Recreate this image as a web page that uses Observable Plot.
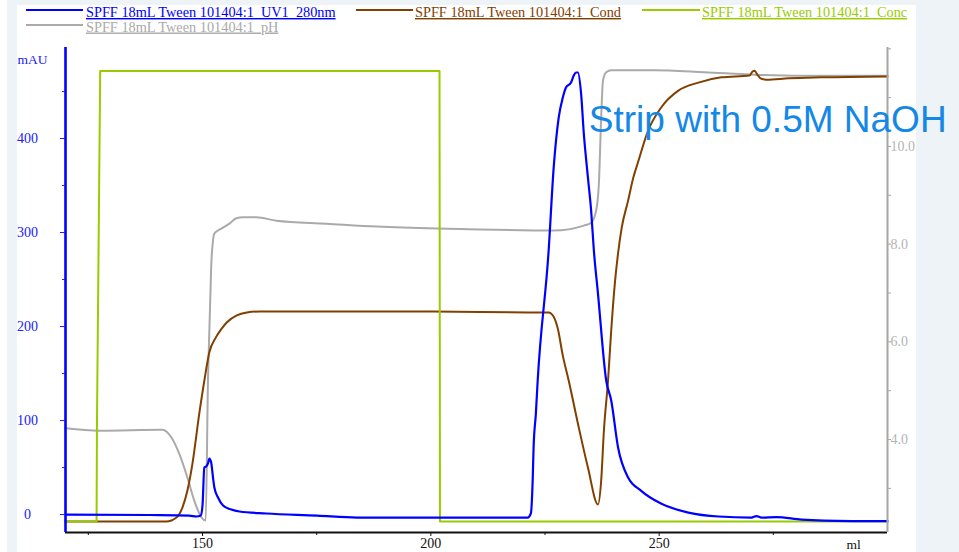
<!DOCTYPE html>
<html><head><meta charset="utf-8">
<script src="https://cdn.jsdelivr.net/npm/d3@7"></script>
<script src="https://cdn.jsdelivr.net/npm/@observablehq/plot@0.6"></script>
<style>
html,body{margin:0;padding:0;background:#fff;width:959px;height:552px;overflow:hidden;position:relative}
.bg{position:absolute;background:#eef3f8}
#legend{position:absolute;left:0;top:0}
#chart{position:absolute;left:0;top:40px}
</style></head><body>
<div class="bg" style="left:7px;top:0;width:10px;height:552px"></div>
<div class="bg" style="left:7px;top:0;width:952px;height:5px"></div>
<div class="bg" style="left:916px;top:0;width:43px;height:552px"></div>
<svg id="legend" width="959" height="40"></svg>
<div id="chart"></div>
<script>
// ---- Series names & colours ----
const seriesNames = [
  "SPFF 18mL Tween 101404:1_UV1_280nm",
  "SPFF 18mL Tween 101404:1_Cond",
  "SPFF 18mL Tween 101404:1_Conc",
  "SPFF 18mL Tween 101404:1_pH"
];
const seriesColors = ["#0000ff", "#804000", "#99cc00", "#aaaaaa"];

// ---- UV 280 nm (mAU) ----
const uvVol = [120, 138.4, 147.1, 148.7, 149.6, 150.0, 150.4, 150.8, 151.2, 151.5, 151.9, 152.3, 152.6, 153.4, 154.5, 156.3, 158.1, 164.0, 175.1, 183.8, 215.3, 221.2, 221.9, 222.3, 222.5, 223.0, 223.4, 225.8, 226.9, 228.0, 228.9, 229.6, 230.7, 231.3, 231.8, 232.2, 232.9, 233.5, 234.4, 235.1, 235.7, 236.6, 238.4, 239.5, 241.0, 243.2, 246.0, 250.4, 256.4, 263.0, 270.2, 271.3, 272.4, 275.7, 281.2, 292.2, 300];
const uvMAU = [0, -0.5, -1.1, -2.1, -1.1, 9.6, 50, 51.1, 54.3, 59.6, 55.3, 39.4, 28.7, 18.1, 9.6, 5.3, 3.2, 1.1, -1.1, -3.2, -3.2, -3.2, 1.1, 36.2, 71.3, 107.4, 142.6, 280.9, 369.1, 422.3, 443.6, 454.3, 459.6, 467.0, 470.2, 470.2, 447.9, 405.3, 358.5, 323.4, 280.9, 235.1, 142.6, 121.3, 71.3, 39.4, 25.5, 11.7, 2.1, -2.1, -3.2, -1.6, -3.2, -2.7, -5.3, -6.9, -7.1];

// ---- Conductivity (mS/cm) ----
const condVol = [120, 142.1, 144.3, 145.6, 146.7, 147.8, 149.3, 150.4, 151.5, 152.9, 154.2, 155.3, 157.5, 159.7, 162.5, 199.9, 221.9, 225.8, 226.9, 227.8, 228.9, 230.2, 232.2, 234.4, 236.6, 237.3, 237.9, 238.8, 239.5, 240.3, 241.0, 241.8, 243.2, 244.3, 245.4, 247.6, 250.4, 254.2, 258.6, 263.6, 269.8, 270.4, 270.9, 271.5, 272.2, 273.5, 278.4, 285.6, 300];
const condVal = [0, 0, 0.84, 2.95, 6.54, 12.2, 22.8, 29.7, 35.7, 38.8, 40.7, 42.0, 43.5, 44.1, 44.3, 44.3, 44.1, 44.1, 43.2, 40.7, 35.0, 29.7, 20.7, 11.4, 3.6, 8.6, 19.2, 29.7, 40.3, 50.3, 56.6, 62.0, 67.7, 72.4, 75.9, 82.5, 87.3, 90.9, 92.6, 93.7, 94.1, 94.9, 95.1, 94.3, 93.5, 93.2, 93.5, 93.7, 93.9];

// ---- Concentration B (%) ----
const concVol = [120, 126.8, 126.9, 127.6, 201.9, 202.0, 300];
const concVal = [0, 0, 23, 100, 100, 0, 0];

// ---- pH ----
const phVol = [120, 127.4, 141.2, 143.2, 144.9, 146.7, 148.2, 149.8, 150.7, 151.2, 151.5, 151.8, 151.9, 152.3, 152.6, 153.4, 154.5, 155.9, 157.4, 158.9, 161.8, 166.2, 177.2, 188.2, 201.4, 206.5, 226.9, 233.5, 235.1, 236.2, 236.8, 237.3, 237.7, 238.4, 239.5, 248.9, 259.9, 270.9, 281.2, 300];
const phVal = [4.23, 4.18, 4.20, 4.04, 3.71, 3.22, 2.75, 2.40, 2.34, 5.21, 6.23, 7.19, 7.52, 8.07, 8.22, 8.28, 8.34, 8.42, 8.53, 8.55, 8.55, 8.48, 8.42, 8.36, 8.32, 8.31, 8.28, 8.38, 8.44, 8.69, 9.24, 10.59, 11.35, 11.52, 11.56, 11.56, 11.52, 11.47, 11.45, 11.45];

// ---- Axes ----
const xDomain = [120, 300];
const yDomain = [-19.1, 496.8];           // mAU
const xTicks = [150, 200, 250];
const xMinor = [125, 175, 225, 275];
const leftTicks = [0, 100, 200, 300, 400];
const leftMinor = [50, 150, 250, 350, 450];
const phTicks = [4, 6, 8, 10];
const phMinor = [3, 5, 7, 9, 11, 12];

// ---- Annotation ----
const noteLabel = ["Strip with 0.5M NaOH"];
const noteVol = [234.6];
const noteMAU = [419];

// secondary-axis calibrations onto the mAU scale
const phToMAU = d3.scaleLinear([4, 10], [79.8, 391.5]);
const condToMAU = d3.scaleLinear([0, 100], [-7.45, 496.8]);
const concToMAU = d3.scaleLinear([0, 100], [-7.45, 471.8]);

const uvRows = uvVol.map((v, i) => ({ml: v, y: uvMAU[i]}));
const condRows = condVol.map((v, i) => ({ml: v, y: condToMAU(condVal[i])}));
const concRows = concVol.map((v, i) => ({ml: v, y: concToMAU(concVal[i])}));
const phRows = phVol.map((v, i) => ({ml: v, y: phToMAU(phVal[i])}));
const notes = noteLabel.map((t, i) => ({label: t, ml: noteVol[i], y: noteMAU[i]}));

const serif = '"Liberation Serif", "Times New Roman", serif';

// ---- Legend ----
const legendLayout = [
  {x1: 26, x2: 83, ly: 10, tx: 86, ty: 17},
  {x1: 356, x2: 413, ly: 10, tx: 415, ty: 17},
  {x1: 642, x2: 700, ly: 10, tx: 702, ty: 17},
  {x1: 26, x2: 83, ly: 25, tx: 86, ty: 31.5}
];
const lg = d3.select("#legend");
seriesNames.forEach((name, i) => {
  const L = legendLayout[i];
  lg.append("line").attr("x1", L.x1).attr("x2", L.x2).attr("y1", L.ly).attr("y2", L.ly)
    .attr("stroke", seriesColors[i]).attr("stroke-width", 2.2);
  lg.append("text").attr("x", L.tx).attr("y", L.ty).text(name)
    .attr("fill", seriesColors[i]).attr("font-family", serif).attr("font-size", "14.3px")
    .attr("text-decoration", "underline");
});

// ---- Chart ----
const chart = Plot.plot({
  width: 959,
  height: 512,
  marginLeft: 65,
  marginRight: 72,
  marginTop: 7,
  marginBottom: 20,
  x: {domain: xDomain},
  y: {domain: yDomain},
  style: {fontFamily: serif, fontSize: "14px", background: "transparent", overflow: "visible"},
  marks: [
    Plot.lineY(phRows, {x: "ml", y: "y", stroke: seriesColors[3], strokeWidth: 2, curve: "monotone-x"}),
    Plot.lineY(condRows, {x: "ml", y: "y", stroke: seriesColors[1], strokeWidth: 2, curve: "monotone-x"}),
    Plot.lineY(concRows, {x: "ml", y: "y", stroke: seriesColors[2], strokeWidth: 2}),
    Plot.lineY(uvRows, {x: "ml", y: "y", stroke: seriesColors[0], strokeWidth: 2.2, curve: "monotone-x"}),
    Plot.ruleY([yDomain[0]], {stroke: "#111", strokeWidth: 2}),
    Plot.ruleX([xDomain[1]], {stroke: "#a6a6a6", strokeWidth: 2}),
    Plot.ruleX([xDomain[0]], {stroke: "#0000ff", strokeWidth: 2.6}),
    Plot.axisY({anchor: "left", ticks: leftTicks, tickSize: 5, tickPadding: 33, textAnchor: "middle", color: "#2020ff", label: null}),
    Plot.axisY({anchor: "left", ticks: leftMinor, tickSize: 3, tickFormat: () => "", color: "#2020ff", label: null}),
    Plot.axisY({anchor: "right", ticks: phTicks.map(phToMAU), tickFormat: d => phToMAU.invert(d).toFixed(1), tickSize: 3, tickPadding: 0, color: "#a6a6a6", fill: "#b4b4b4", label: null}),
    Plot.axisY({anchor: "right", ticks: phMinor.map(phToMAU), tickSize: 3, tickFormat: () => "", color: "#a6a6a6", label: null}),
    Plot.axisX({anchor: "bottom", ticks: xTicks, tickSize: 4, tickPadding: 2, color: "#111", label: null}),
    Plot.axisX({anchor: "bottom", ticks: xMinor, tickSize: 3, tickFormat: () => "", color: "#111", label: null}),
    Plot.text(["mAU"], {frameAnchor: "top-left", textAnchor: "middle", lineAnchor: "middle", dx: -33, dy: 12, fill: "#2020ff", fontSize: 13.5}),
    Plot.text(["ml"], {frameAnchor: "bottom-right", textAnchor: "middle", lineAnchor: "middle", dx: -34, dy: 12, fill: "#111", fontSize: 13.5}),
    Plot.text(notes, {x: "ml", y: "y", text: "label", textAnchor: "start", fontSize: 37,
      fontFamily: '"Liberation Sans", Arial, sans-serif', fill: "#1488e6"})
  ]
});
document.getElementById("chart").append(chart);
</script>
</body></html>
